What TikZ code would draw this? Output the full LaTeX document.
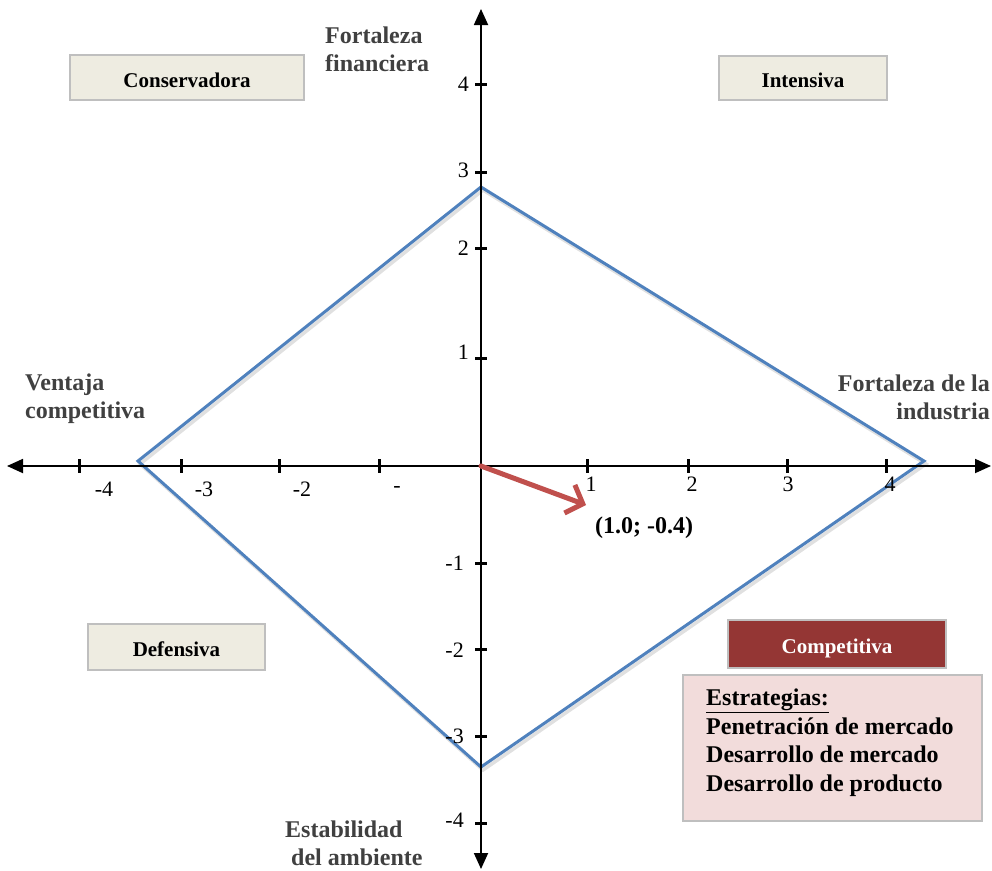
\documentclass[tikz,border=0pt]{standalone}
\usepackage{fontspec}
\setmainfont{Liberation Serif}
\usetikzlibrary{arrows.meta}

\definecolor{diamondblue}{HTML}{4F81BD}
\definecolor{arrowred}{HTML}{C0504D}
\definecolor{boxfill}{HTML}{EEECE1}
\definecolor{boxedge}{HTML}{BFBFBF}
\definecolor{compfill}{HTML}{943634}
\definecolor{stratfill}{HTML}{F2DCDB}
\definecolor{axislabel}{HTML}{404040}

\tikzset{
  axisline/.style={line width=1.8pt, black, {Triangle[length=16pt,width=14pt]}-{Triangle[length=16pt,width=14pt]}},
  tickmark/.style={line width=3pt, black},
  ticklabel/.style={font=\fontsize{22}{24}\selectfont, inner sep=0pt},
  quadbox/.style={draw=boxedge, line width=1.8pt, fill=boxfill, inner sep=0pt,
    text height=19pt, text depth=0pt,
    font=\bfseries\fontsize{21}{24}\selectfont},
  axistitle/.style={text=axislabel, inner sep=0pt,
    font=\bfseries\fontsize{24}{28}\selectfont},
  diamondline/.style={draw=diamondblue, line width=3pt, line join=miter},
  diamondshadow/.style={draw=black!35, opacity=0.35, line width=3.5pt},
  vectorline/.style={draw=arrowred, line width=5pt, line cap=round,
    -{Straight Barb[length=14pt,width=30pt,line width=5pt]}},
}

\begin{document}
\begin{tikzpicture}[x=1pt,y=-1pt]
\useasboundingbox (0,0) rectangle (992,870);

% reference points
\coordinate (O) at (481,466);
\coordinate (xl) at (7,466);
\coordinate (xr) at (991,466);
\coordinate (yt) at (481,9);
\coordinate (yb) at (481,869);
\coordinate (dt) at (481,187);
\coordinate (dr) at (924,461);
\coordinate (db) at (481,767);
\coordinate (dl) at (138,461);
\coordinate (vtip) at (586,505);

% strategic position polygon
\draw[diamondshadow] ([shift={(2,3)}]dt) -- ([shift={(2,3)}]dr) -- ([shift={(2,3)}]db) -- ([shift={(2,3)}]dl) -- cycle;
\draw[diamondline] (dt) -- (dr) -- (db) -- (dl) -- cycle;

% axes
\draw[axisline] (xl) -- (xr);
\draw[axisline] (yb) -- (yt);

% ticks
\foreach \tx in {79,181,279,379,587,688,787,886}
  \draw[tickmark] (\tx,459) -- (\tx,473);
\foreach \ty in {84,172,248,358,563,649,736,823}
  \draw[tickmark] (475,\ty) -- (487,\ty);

% tick labels, horizontal axis
\node[ticklabel] (xm4) at (104,489) {-4};
\node[ticklabel] (xm3) at (204,489) {-3};
\node[ticklabel] (xm2) at (302,489) {-2};
\node[ticklabel] (xm1) at (397,489) {-};
\node[ticklabel] (xp1) at (591,484) {1};
\node[ticklabel] (xp2) at (692,484) {2};
\node[ticklabel] (xp3) at (788,484) {3};
\node[ticklabel] (xp4) at (890,484) {4};

% tick labels, vertical axis
\node[ticklabel, anchor=east] (yp4) at (469,84) {4};
\node[ticklabel, anchor=east] (yp3) at (469,170) {3};
\node[ticklabel, anchor=east] (yp2) at (469,248) {2};
\node[ticklabel, anchor=east] (yp1) at (469,352) {1};
\node[ticklabel, anchor=east] (ym1) at (464,563) {-1};
\node[ticklabel, anchor=east] (ym2) at (464,650) {-2};
\node[ticklabel, anchor=east] (ym3) at (464,736) {-3};
\node[ticklabel, anchor=east] (ym4) at (464,820) {-4};

% axis titles
\node[axistitle, align=left, anchor=west] (ff) at (325,49) {Fortaleza\\financiera};
\node[axistitle, align=left, anchor=west] (vc) at (25,399) {Ventaja\\competitiva};
\node[axistitle, align=right, anchor=east] (fi) at (990,397) {Fortaleza de la\\industria};
\node[axistitle, align=left, anchor=west] (ea) at (285,843) {Estabilidad\\\hspace*{6pt}del ambiente};

% quadrant boxes
\node[quadbox, minimum width=234pt, minimum height=45pt] (cons) at (187,77.5) {Conservadora};
\node[quadbox, minimum width=168pt, minimum height=44pt] (inte) at (803,78) {Intensiva};
\node[quadbox, minimum width=177pt, minimum height=46pt] (defe) at (176.5,647) {Defensiva};
\node[quadbox, fill=compfill, text=white, minimum width=218pt, minimum height=48pt] (comp) at (837,644) {Competitiva};

% strategies box
\node[draw=boxedge, line width=1.8pt, fill=stratfill, minimum width=299pt, minimum height=146pt, inner sep=0pt] (strat) at (832.5,748) {};
\node[anchor=north west, align=left, inner sep=0pt,
      font=\bfseries\fontsize{24}{28.5}\selectfont] (stratxt) at (706,689)
  {\underline{Estrategias:}\\Penetración de mercado\\Desarrollo de mercado\\Desarrollo de producto};

% resulting vector
\draw[vectorline] (O) -- (vtip);
\node[inner sep=0pt, font=\bfseries\fontsize{24}{26}\selectfont] (vlabel) at (644,528) {(1.0; -0.4)};
\end{tikzpicture}
\end{document}
